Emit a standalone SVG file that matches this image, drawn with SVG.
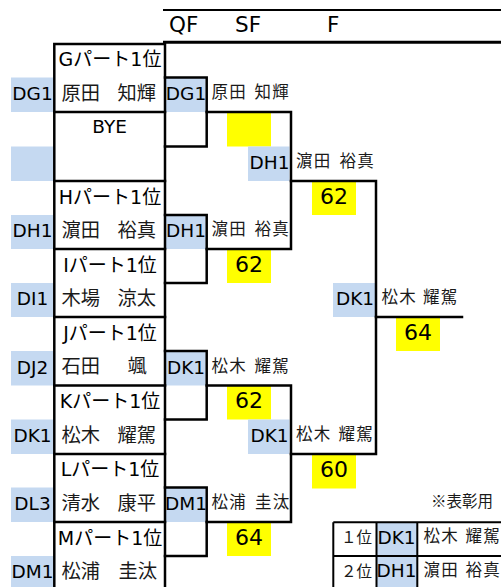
<svg xmlns="http://www.w3.org/2000/svg" width="501" height="587" viewBox="0 0 501 587">
<style>
.bg{fill:#ffffff}
.blue{fill:#C5D9F1}
.yel{fill:#FFFF00}
.ln{stroke:#000;stroke-width:2.5;fill:none;stroke-linecap:square}
.tl{stroke:#000;stroke-width:2;fill:none}
.hd{font-family:"DejaVu Sans","Noto Sans CJK JP",sans-serif;font-size:21.5px;fill:#000}
.cd{font-family:"DejaVu Sans","Noto Sans CJK JP",sans-serif;font-size:18.5px;fill:#000;text-anchor:middle}
.pt{font-family:"DejaVu Sans","Noto Sans CJK JP",sans-serif;font-size:19px;fill:#000;text-anchor:middle}
.bn{font-family:"Noto Sans CJK JP",sans-serif;font-size:19.3px;fill:#1a1a1a}
.sn{font-family:"Noto Sans CJK JP",sans-serif;font-size:16.5px;letter-spacing:1.2px;fill:#1a1a1a}
.sc{font-family:"DejaVu Sans",sans-serif;font-size:22px;fill:#000;text-anchor:middle}
.nt{font-family:"Noto Sans CJK JP",sans-serif;font-size:15.5px;fill:#1a1a1a}
</style>
<rect class="bg" x="0" y="0" width="501" height="587"/>

<g id="header">
<line class="tl" x1="163" y1="10" x2="501" y2="10"/>
<line x1="163" y1="42.2" x2="501" y2="42.2" stroke="#000" stroke-width="3"/>
<text class="hd" x="169" y="32">QF</text>
<text class="hd" x="235" y="32">SF</text>
<text class="hd" x="327" y="32">F</text>
</g>

<g id="entries">
<g id="entry-G">
<rect class="blue" x="11" y="77.5" width="42.5" height="34.5"/>
<text class="cd" x="32.5" y="100">DG1</text>
<text class="pt" x="110" y="66">Gパート1位</text>
<text class="bn" y="99.5"><tspan x="61.5">原田</tspan><tspan x="117.5">知輝</tspan></text>
</g>
<g id="entry-BYE">
<rect class="blue" x="11" y="146.5" width="42.5" height="34.5"/>
<text class="cd" x="109.7" y="133.3">BYE</text>
</g>
<g id="entry-H">
<rect class="blue" x="11" y="215" width="42.5" height="34"/>
<text class="cd" x="32.5" y="237">DH1</text>
<text class="pt" x="110" y="203.5">Hパート1位</text>
<text class="bn" y="236.5"><tspan x="61.5">濵田</tspan><tspan x="117.5">裕真</tspan></text>
</g>
<g id="entry-I">
<rect class="blue" x="11" y="283" width="42.5" height="34"/>
<text class="cd" x="32.5" y="305">DI1</text>
<text class="pt" x="110" y="271.5">Iパート1位</text>
<text class="bn" y="304.5"><tspan x="61.5">木場</tspan><tspan x="117.5">涼太</tspan></text>
</g>
<g id="entry-J">
<rect class="blue" x="11" y="351" width="42.5" height="34.5"/>
<text class="cd" x="32.5" y="373.5">DJ2</text>
<text class="pt" x="110" y="339.5">Jパート1位</text>
<text class="bn" y="373"><tspan x="61.5">石田</tspan><tspan x="127.5">颯</tspan></text>
</g>
<g id="entry-K">
<rect class="blue" x="11" y="419.5" width="42.5" height="34.5"/>
<text class="cd" x="32.5" y="442">DK1</text>
<text class="pt" x="110" y="408">Kパート1位</text>
<text class="bn" y="441.5"><tspan x="61.5">松木</tspan><tspan x="117.5">耀駕</tspan></text>
</g>
<g id="entry-L">
<rect class="blue" x="11" y="487.5" width="42.5" height="34.5"/>
<text class="cd" x="32.5" y="510">DL3</text>
<text class="pt" x="110" y="476">Lパート1位</text>
<text class="bn" y="509.5"><tspan x="61.5">清水</tspan><tspan x="117.5">康平</tspan></text>
</g>
<g id="entry-M">
<rect class="blue" x="11" y="556" width="42.5" height="34"/>
<text class="cd" x="32.5" y="578">DM1</text>
<text class="pt" x="110" y="544.5">Mパート1位</text>
<text class="bn" y="577.5"><tspan x="61.5">松浦</tspan><tspan x="118.5">圭汰</tspan></text>
</g>
</g>

<g id="scores">
<rect class="yel" x="227" y="112" width="44" height="34.5"/>
<rect class="yel" x="227" y="249" width="44" height="34"/>
<text class="sc" x="249" y="271.5">62</text>
<rect class="yel" x="312" y="181" width="44" height="34"/>
<text class="sc" x="334" y="203.5">62</text>
<rect class="yel" x="396" y="317" width="44" height="34"/>
<text class="sc" x="418" y="339.5">64</text>
<rect class="yel" x="227" y="385.5" width="44" height="34"/>
<text class="sc" x="249" y="408">62</text>
<rect class="yel" x="312" y="454" width="44" height="34.5"/>
<text class="sc" x="334" y="476.5">60</text>
<rect class="yel" x="227" y="522" width="44" height="34"/>
<text class="sc" x="249" y="544.5">64</text>
</g>

<g id="winners">
<g id="qf1">
<rect class="blue" x="166" y="77.5" width="39.5" height="34.5"/>
<text class="cd" x="186" y="100">DG1</text>
<text class="sn" y="98"><tspan x="211.5">原田</tspan><tspan x="254.5">知輝</tspan></text>
</g>
<g id="qf2">
<rect class="blue" x="166" y="215" width="39.5" height="34"/>
<text class="cd" x="186" y="237">DH1</text>
<text class="sn" y="235"><tspan x="211.5">濵田</tspan><tspan x="254.5">裕真</tspan></text>
</g>
<g id="qf3">
<rect class="blue" x="166" y="351" width="39.5" height="34.5"/>
<text class="cd" x="186" y="373.5">DK1</text>
<text class="sn" y="371.5"><tspan x="211.5">松木</tspan><tspan x="254.5">耀駕</tspan></text>
</g>
<g id="qf4">
<rect class="blue" x="166" y="487.5" width="39.5" height="34.5"/>
<text class="cd" x="186" y="510">DM1</text>
<text class="sn" y="508"><tspan x="211.5">松浦</tspan><tspan x="255">圭汰</tspan></text>
</g>
<g id="sf1">
<rect class="blue" x="248" y="146.5" width="41.5" height="34.5"/>
<text class="cd" x="269.5" y="169">DH1</text>
<text class="sn" y="167"><tspan x="296">濵田</tspan><tspan x="339.5">裕真</tspan></text>
</g>
<g id="sf2">
<rect class="blue" x="248" y="419.5" width="41.5" height="34.5"/>
<text class="cd" x="269.5" y="442">DK1</text>
<text class="sn" y="440"><tspan x="296">松木</tspan><tspan x="338.5">耀駕</tspan></text>
</g>
<g id="final">
<rect class="blue" x="333" y="283" width="42" height="34"/>
<text class="cd" x="355" y="305">DK1</text>
<text class="sn" y="303"><tspan x="381.5">松木</tspan><tspan x="423">耀駕</tspan></text>
</g>
</g>

<g id="connectors">
<path class="ln" d="M54.3,44 H165 M54.3,44 V592 M165,44 V592"/>
<path class="ln" d="M54.3,112 H165 M54.3,181 H165 M54.3,249 H165 M54.3,317 H165 M54.3,385.5 H165 M54.3,454 H165 M54.3,522 H165"/>
<path class="ln" d="M165,77.5 H206.7 V146.5 H165"/>
<path class="ln" d="M165,215 H206.7 V283 H165"/>
<path class="ln" d="M165,351 H206.7 V419.5 H165"/>
<path class="ln" d="M165,487.5 H206.7 V556 H165"/>
<path class="ln" d="M206.7,112 H291 V249 H206.7"/>
<path class="ln" d="M206.7,385.5 H291 V522 H206.7"/>
<path class="ln" d="M291,181 H376 V454 H291"/>
<path class="ln" d="M376,317 H462"/>
</g>

<g id="ranking">
<text class="nt" x="493" y="507" text-anchor="end">※表彰用</text>
<rect class="blue" x="376" y="522" width="41.5" height="68"/>
<path class="tl" d="M333.3,522.3 H502 M333.3,556 H502 M333.3,522.3 V590 M376.5,522.3 V590 M417.3,522.3 V590"/>
<text class="nt" x="372" y="543" text-anchor="end">１位</text>
<text class="cd" x="396.5" y="543.5">DK1</text>
<text class="sn" y="542"><tspan x="423.5">松木</tspan><tspan x="465.5">耀駕</tspan></text>
<text class="nt" x="372" y="577" text-anchor="end">２位</text>
<text class="cd" x="396.5" y="577">DH1</text>
<text class="sn" y="576"><tspan x="423.5">濵田</tspan><tspan x="465.5">裕真</tspan></text>
</g>
</svg>
